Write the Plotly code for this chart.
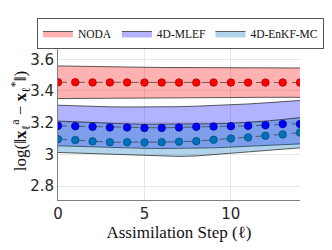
import plotly.graph_objects as go

steps = list(range(15))

noda_mean = [3.455, 3.455, 3.454, 3.454, 3.454, 3.453, 3.453, 3.453, 3.453, 3.453, 3.453, 3.453, 3.453, 3.453, 3.453]
noda_upper = [3.558, 3.556, 3.553, 3.551, 3.550, 3.549, 3.548, 3.548, 3.547, 3.547, 3.546, 3.546, 3.545, 3.545, 3.545]
noda_lower = [3.352, 3.353, 3.354, 3.355, 3.355, 3.356, 3.357, 3.357, 3.358, 3.358, 3.359, 3.359, 3.360, 3.360, 3.360]

mlef_mean = [3.180, 3.178, 3.174, 3.170, 3.170, 3.167, 3.167, 3.170, 3.174, 3.176, 3.178, 3.180, 3.184, 3.191, 3.192]
mlef_upper = [3.310, 3.306, 3.302, 3.300, 3.299, 3.299, 3.300, 3.301, 3.304, 3.308, 3.313, 3.318, 3.325, 3.332, 3.340]
mlef_lower = [3.054, 3.050, 3.046, 3.042, 3.040, 3.038, 3.037, 3.037, 3.038, 3.041, 3.046, 3.051, 3.056, 3.061, 3.066]

enkf_mean = [3.096, 3.090, 3.082, 3.077, 3.077, 3.075, 3.077, 3.080, 3.083, 3.092, 3.100, 3.107, 3.117, 3.126, 3.138]
enkf_upper = [3.210, 3.205, 3.199, 3.195, 3.192, 3.190, 3.190, 3.190, 3.191, 3.193, 3.196, 3.202, 3.210, 3.220, 3.232]
enkf_lower = [3.012, 3.008, 3.004, 3.001, 2.998, 2.993, 2.989, 2.987, 2.990, 2.998, 3.008, 3.015, 3.023, 3.032, 3.041]

x_ticks = [0, 5, 10]
y_ticks = [2.8, 3.0, 3.2, 3.4, 3.6]
y_tick_labels = ["2.8", "3", "3.2", "3.4", "3.6"]

series = [
    ("NODA", noda_mean, noda_upper, noda_lower, "rgba(255,0,0,0.3)", "#ff0000", "#b00000"),
    ("4D-MLEF", mlef_mean, mlef_upper, mlef_lower, "rgba(0,0,255,0.3)", "#0000ff", "#0000a0"),
    ("4D-EnKF-MC", enkf_mean, enkf_upper, enkf_lower, "rgba(0,114,189,0.3)", "#0072bd", "#004f85"),
]

fig = go.Figure()
edge = "rgba(40,40,40,0.75)"
for name, mean, up, lo, fillc, mc, mec in series:
    fig.add_trace(go.Scatter(x=steps, y=lo, mode="lines", line=dict(color=edge, width=1),
                             showlegend=False, hoverinfo="skip"))
    fig.add_trace(go.Scatter(x=steps, y=up, mode="lines", line=dict(color=edge, width=1),
                             fill="tonexty", fillcolor=fillc, name=name, showlegend=True))
for name, mean, up, lo, fillc, mc, mec in series:
    fig.add_trace(go.Scatter(x=steps, y=mean, mode="lines+markers",
                             line=dict(color="rgba(70,70,70,0.8)", width=1, dash="dash"),
                             marker=dict(color=mc, size=7.5, line=dict(color=mec, width=0.8)),
                             showlegend=False))

tickfont = dict(family="DejaVu Sans", size=15, color="#262626")
fig.update_layout(
    width=316, height=234,
    margin=dict(l=50, r=24, t=34, b=42, autoexpand=False),
    paper_bgcolor="white", plot_bgcolor="white",
    legend=dict(orientation="h", xref="paper", x=-0.087, xanchor="left",
                yref="paper", y=1.152, yanchor="top",
                font=dict(family="Liberation Serif", size=11.5, color="#111"),
                bordercolor="#555", borderwidth=1, bgcolor="white",
                itemwidth=30, traceorder="normal"),
    xaxis=dict(range=[0, 14], tickvals=x_ticks, ticktext=[str(v) for v in x_ticks],
               tickfont=tickfont, showgrid=True, gridcolor="#e6e6e6", gridwidth=1,
               showline=True, linecolor="#808080", linewidth=1, zeroline=False, ticks="",
               automargin=False,
               title=dict(text="Assimilation Step (ℓ)",
                          font=dict(family="Liberation Serif", size=17, color="#111"), standoff=0)),
    yaxis=dict(range=[2.712, 3.709], tickvals=y_ticks, ticktext=y_tick_labels,
               tickfont=tickfont, showgrid=True, gridcolor="#e6e6e6", gridwidth=1,
               showline=True, linecolor="#808080", linewidth=1, zeroline=False, ticks="",
               automargin=False,
               title=dict(text="log(‖<b>x</b><sub>ℓ</sub><sup>a</sup> − <b>x</b><sub>ℓ</sub><sup>*</sup>‖)",
                          font=dict(family="Liberation Serif", size=17, color="#111"), standoff=4)),
)

fig.write_html("out.html")
